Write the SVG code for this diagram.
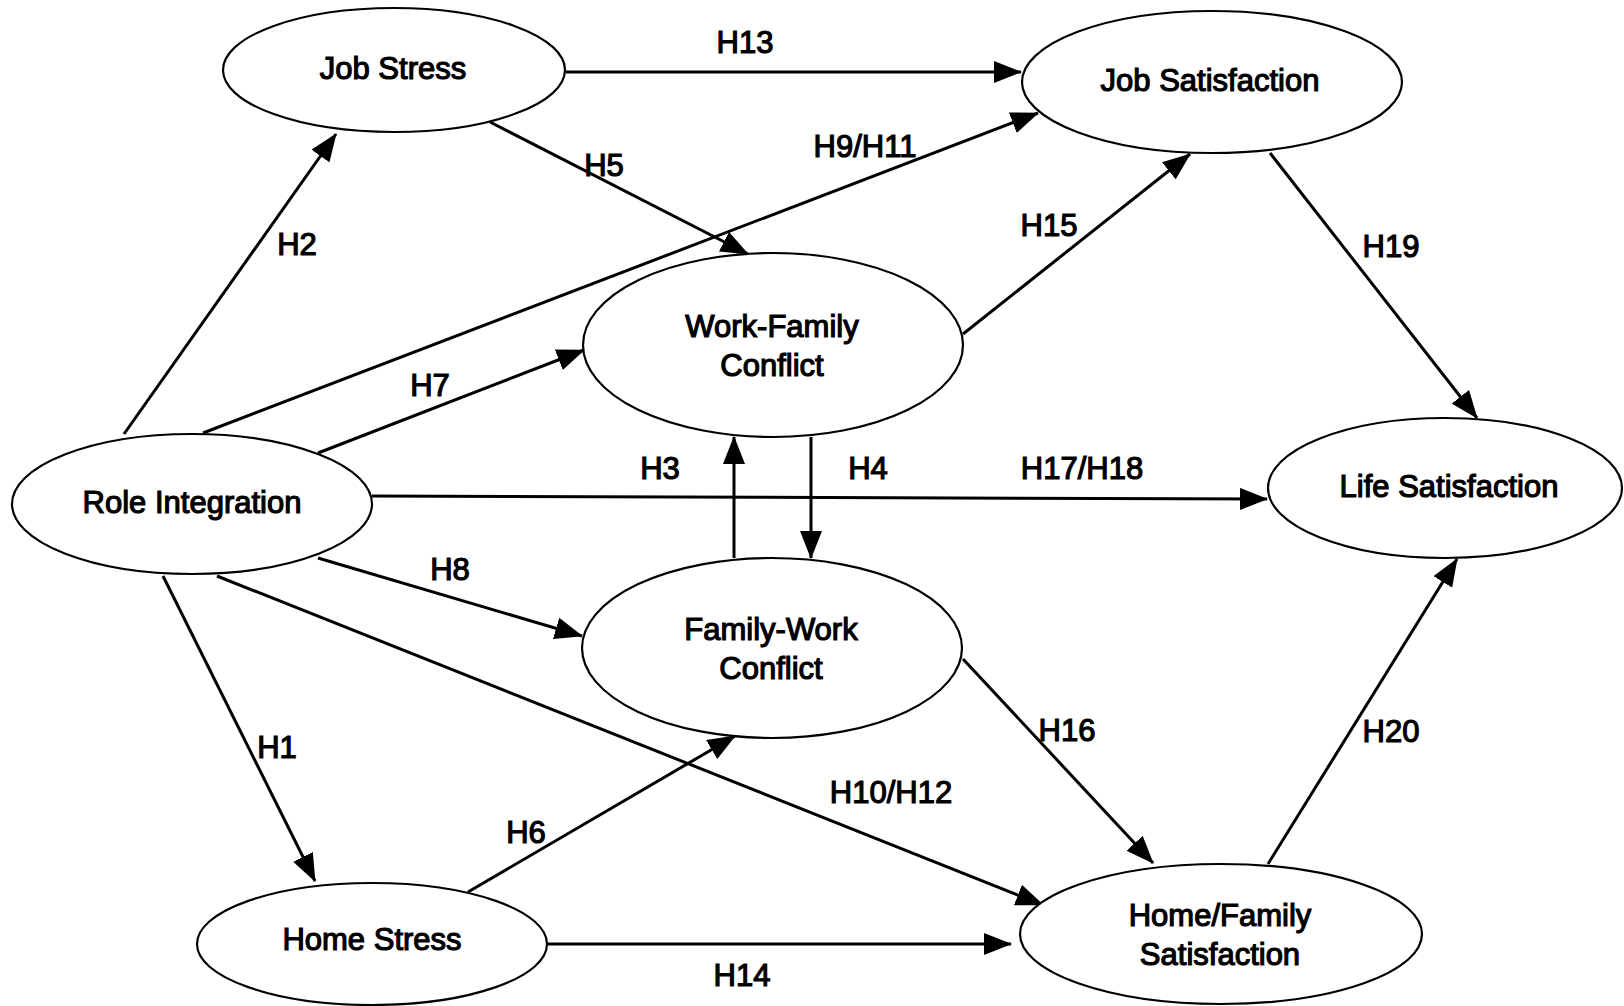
<svg xmlns="http://www.w3.org/2000/svg" width="1624" height="1006" viewBox="0 0 1624 1006">
  <style>
    .node ellipse { fill: #ffffff; stroke: #000000; stroke-width: 2.2; }
    .node text { font-family: "Liberation Sans", Arial, sans-serif; font-size: 31px; fill: #000000; stroke: #000000; stroke-width: 1.2; text-anchor: middle; }
    .edge { stroke: #000000; stroke-width: 3; fill: none; marker-end: url(#arrow); }
    .lbl { font-family: "Liberation Sans", Arial, sans-serif; font-size: 31px; fill: #000000; stroke: #000000; stroke-width: 1.2; text-anchor: middle; }
  </style>
  <defs>
    <marker id="arrow" markerUnits="userSpaceOnUse" markerWidth="28" markerHeight="22" refX="27" refY="11" orient="auto">
      <path d="M0,0 L28,11 L0,22 Z" fill="#000000"/>
    </marker>
  </defs>
  <rect x="0" y="0" width="1624" height="1006" fill="#ffffff"/>

  <!-- connectors -->
  <g id="connectors">
    <line class="edge" x1="566" y1="72" x2="1021" y2="72"/>
    <line class="edge" x1="124" y1="434" x2="336" y2="134"/>
    <line class="edge" x1="203" y1="433" x2="1038" y2="113"/>
    <line class="edge" x1="318" y1="453" x2="584" y2="350"/>
    <line class="edge" x1="490" y1="122" x2="748" y2="254"/>
    <line class="edge" x1="372" y1="496" x2="1267" y2="499"/>
    <line class="edge" x1="734" y1="558" x2="734" y2="437"/>
    <line class="edge" x1="811" y1="437" x2="811" y2="558"/>
    <line class="edge" x1="963" y1="334" x2="1190" y2="154"/>
    <line class="edge" x1="1270" y1="153" x2="1477" y2="418"/>
    <line class="edge" x1="318" y1="558" x2="582" y2="636"/>
    <line class="edge" x1="217" y1="576" x2="1043" y2="905"/>
    <line class="edge" x1="163" y1="576" x2="315" y2="881"/>
    <line class="edge" x1="468" y1="892" x2="735" y2="736"/>
    <line class="edge" x1="547" y1="944" x2="1011" y2="944"/>
    <line class="edge" x1="963" y1="659" x2="1153" y2="863"/>
    <line class="edge" x1="1268" y1="864" x2="1457" y2="559"/>
  </g>

  <!-- hypothesis labels -->
  <g id="labels">
    <text class="lbl" x="745" y="53">H13</text>
    <text class="lbl" x="604" y="176">H5</text>
    <text class="lbl" x="865" y="157">H9/H11</text>
    <text class="lbl" x="297" y="255">H2</text>
    <text class="lbl" x="1049" y="236">H15</text>
    <text class="lbl" x="1391" y="257">H19</text>
    <text class="lbl" x="430" y="396">H7</text>
    <text class="lbl" x="660" y="479">H3</text>
    <text class="lbl" x="868" y="479">H4</text>
    <text class="lbl" x="1082" y="479">H17/H18</text>
    <text class="lbl" x="450" y="580">H8</text>
    <text class="lbl" x="277" y="758">H1</text>
    <text class="lbl" x="1067" y="741">H16</text>
    <text class="lbl" x="1391" y="742">H20</text>
    <text class="lbl" x="891" y="803">H10/H12</text>
    <text class="lbl" x="526" y="843">H6</text>
    <text class="lbl" x="742" y="986">H14</text>
  </g>

  <!-- constructs -->
  <g id="job-stress" class="node">
    <ellipse cx="394" cy="70" rx="171" ry="62"/>
    <text x="393" y="79">Job Stress</text>
  </g>
  <g id="job-satisfaction" class="node">
    <ellipse cx="1212" cy="82" rx="190" ry="71"/>
    <text x="1210" y="91">Job Satisfaction</text>
  </g>
  <g id="work-family-conflict" class="node">
    <ellipse cx="773" cy="345" rx="190" ry="92"/>
    <text x="772" y="337">Work-Family</text>
    <text x="772" y="376">Conflict</text>
  </g>
  <g id="family-work-conflict" class="node">
    <ellipse cx="772" cy="648" rx="190" ry="90"/>
    <text x="771" y="640">Family-Work</text>
    <text x="771" y="679">Conflict</text>
  </g>
  <g id="role-integration" class="node">
    <ellipse cx="192" cy="504" rx="180" ry="70"/>
    <text x="192" y="513">Role Integration</text>
  </g>
  <g id="home-stress" class="node">
    <ellipse cx="372" cy="944" rx="175" ry="61"/>
    <text x="372" y="950">Home Stress</text>
  </g>
  <g id="home-family-satisfaction" class="node">
    <ellipse cx="1221" cy="934" rx="201" ry="70"/>
    <text x="1220" y="926">Home/Family</text>
    <text x="1220" y="965">Satisfaction</text>
  </g>
  <g id="life-satisfaction" class="node">
    <ellipse cx="1445" cy="488" rx="177" ry="70"/>
    <text x="1449" y="497">Life Satisfaction</text>
  </g>
</svg>
